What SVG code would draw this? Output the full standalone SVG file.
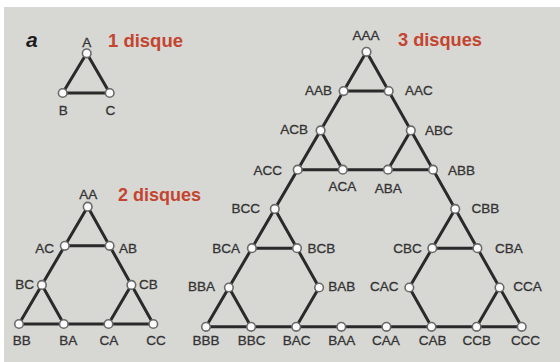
<svg xmlns="http://www.w3.org/2000/svg" width="560" height="362" viewBox="0 0 560 362">
<style>
.e{stroke:#2a2a2a;stroke-width:3;stroke-linecap:round;fill:none}
.n{fill:#fbfbfb;stroke:#6a6a6a;stroke-width:1.6}
.l{font-family:"Liberation Sans",Arial,sans-serif;font-size:13.5px;fill:#333333;stroke:#333333;stroke-width:0.3}
.m{text-anchor:middle}
.r{text-anchor:end}
.t{font-family:"Liberation Sans",Arial,sans-serif;font-size:18.5px;font-weight:bold;fill:#c4452f}
</style>
<rect x="0" y="0" width="560" height="362" fill="#ffffff"/>
<rect x="4" y="7" width="556" height="355" fill="#d7d7d4"/>
<text x="26" y="46.5" font-family="'Liberation Sans',Arial,sans-serif" font-size="21" font-style="italic" font-weight="bold" fill="#1c1c1c">a</text>
<text class="t" x="108" y="46.5" textLength="75" lengthAdjust="spacingAndGlyphs">1 disque</text>
<text class="t" x="118" y="200.5" textLength="83" lengthAdjust="spacingAndGlyphs">2 disques</text>
<text class="t" x="398" y="45.5" textLength="84" lengthAdjust="spacingAndGlyphs">3 disques</text>
<g id="connectors">
<polygon class="e" points="86.7,53.3 62.7,93 109.7,93"/>
<polygon class="e" points="87.7,206.7 19,324 153.3,324"/>
<line class="e" x1="64.8" y1="245.8" x2="109.6" y2="245.8"/>
<line class="e" x1="41.9" y1="284.9" x2="63.8" y2="324"/>
<line class="e" x1="131.4" y1="284.9" x2="108.5" y2="324"/>
<polygon class="e" points="366.5,51.8 206,326.8 521.7,326.8"/>
<line class="e" x1="343.6" y1="91.1" x2="388.7" y2="91.1"/>
<line class="e" x1="297.7" y1="169.7" x2="433" y2="169.7"/>
<line class="e" x1="320.6" y1="130.4" x2="342.8" y2="169.7"/>
<line class="e" x1="410.8" y1="130.4" x2="387.9" y2="169.7"/>
<line class="e" x1="251.9" y1="248.2" x2="297" y2="248.2"/>
<line class="e" x1="432.3" y1="248.2" x2="477.4" y2="248.2"/>
<line class="e" x1="274.8" y1="208.9" x2="319.1" y2="287.5"/>
<line class="e" x1="319.1" y1="287.5" x2="296.2" y2="326.8"/>
<line class="e" x1="228.9" y1="287.5" x2="251.1" y2="326.8"/>
<line class="e" x1="455.2" y1="208.9" x2="409.3" y2="287.5"/>
<line class="e" x1="409.3" y1="287.5" x2="431.5" y2="326.8"/>
<line class="e" x1="499.5" y1="287.5" x2="476.6" y2="326.8"/>
</g>
<g id="n1-A"><circle class="n" cx="86.7" cy="53.3" r="4.3"/><text class="l m" x="86.7" y="46.6">A</text></g>
<g id="n1-B"><circle class="n" cx="62.7" cy="93" r="4.3"/><text class="l m" x="63.3" y="114.6">B</text></g>
<g id="n1-C"><circle class="n" cx="109.7" cy="93" r="4.3"/><text class="l m" x="110.3" y="114.6">C</text></g>
<g id="n2-AA"><circle class="n" cx="87.7" cy="206.7" r="4.3"/><text class="l m" x="88.3" y="198.6">AA</text></g>
<g id="n2-AC"><circle class="n" cx="64.8" cy="245.8" r="4.3"/><text class="l r" x="54" y="252.8">AC</text></g>
<g id="n2-AB"><circle class="n" cx="109.6" cy="245.8" r="4.3"/><text class="l" x="119" y="252.8">AB</text></g>
<g id="n2-BC"><circle class="n" cx="41.9" cy="284.9" r="4.3"/><text class="l r" x="34" y="288.6">BC</text></g>
<g id="n2-CB"><circle class="n" cx="131.4" cy="284.9" r="4.3"/><text class="l" x="139" y="288.6">CB</text></g>
<g id="n2-BB"><circle class="n" cx="19" cy="324" r="4.3"/><text class="l m" x="21.7" y="344.6">BB</text></g>
<g id="n2-BA"><circle class="n" cx="63.8" cy="324" r="4.3"/><text class="l m" x="68.3" y="344.6">BA</text></g>
<g id="n2-CA"><circle class="n" cx="108.5" cy="324" r="4.3"/><text class="l m" x="109" y="344.6">CA</text></g>
<g id="n2-CC"><circle class="n" cx="153.3" cy="324" r="4.3"/><text class="l m" x="156" y="344.6">CC</text></g>
<g id="n3-AAA"><circle class="n" cx="366.5" cy="51.8" r="4.3"/><text class="l m" x="366" y="39.6">AAA</text></g>
<g id="n3-AAB"><circle class="n" cx="343.6" cy="91.1" r="4.3"/><text class="l r" x="332" y="95">AAB</text></g>
<g id="n3-AAC"><circle class="n" cx="388.7" cy="91.1" r="4.3"/><text class="l" x="405" y="95">AAC</text></g>
<g id="n3-ACB"><circle class="n" cx="320.6" cy="130.4" r="4.3"/><text class="l r" x="308" y="134">ACB</text></g>
<g id="n3-ABC"><circle class="n" cx="410.8" cy="130.4" r="4.3"/><text class="l" x="425" y="134.6">ABC</text></g>
<g id="n3-ACC"><circle class="n" cx="297.7" cy="169.7" r="4.3"/><text class="l r" x="282" y="174.6">ACC</text></g>
<g id="n3-ACA"><circle class="n" cx="342.8" cy="169.7" r="4.3"/><text class="l m" x="342.3" y="191.3">ACA</text></g>
<g id="n3-ABA"><circle class="n" cx="387.9" cy="169.7" r="4.3"/><text class="l m" x="388.3" y="192.9">ABA</text></g>
<g id="n3-ABB"><circle class="n" cx="433" cy="169.7" r="4.3"/><text class="l" x="448" y="174.6">ABB</text></g>
<g id="n3-BCC"><circle class="n" cx="274.8" cy="208.9" r="4.3"/><text class="l r" x="260" y="212.9">BCC</text></g>
<g id="n3-CBB"><circle class="n" cx="455.2" cy="208.9" r="4.3"/><text class="l" x="471.5" y="212.9">CBB</text></g>
<g id="n3-BCA"><circle class="n" cx="251.9" cy="248.2" r="4.3"/><text class="l r" x="240" y="252.9">BCA</text></g>
<g id="n3-BCB"><circle class="n" cx="297" cy="248.2" r="4.3"/><text class="l" x="307.5" y="252.9">BCB</text></g>
<g id="n3-CBC"><circle class="n" cx="432.3" cy="248.2" r="4.3"/><text class="l r" x="421.7" y="252.9">CBC</text></g>
<g id="n3-CBA"><circle class="n" cx="477.4" cy="248.2" r="4.3"/><text class="l" x="495" y="252.9">CBA</text></g>
<g id="n3-BBA"><circle class="n" cx="228.9" cy="287.5" r="4.3"/><text class="l r" x="215" y="290.6">BBA</text></g>
<g id="n3-BAB"><circle class="n" cx="319.1" cy="287.5" r="4.3"/><text class="l" x="328.3" y="290.6">BAB</text></g>
<g id="n3-CAC"><circle class="n" cx="409.3" cy="287.5" r="4.3"/><text class="l r" x="398.5" y="290.6">CAC</text></g>
<g id="n3-CCA"><circle class="n" cx="499.5" cy="287.5" r="4.3"/><text class="l" x="513.3" y="290.6">CCA</text></g>
<g id="n3-BBB"><circle class="n" cx="206" cy="326.8" r="4.3"/><text class="l m" x="206" y="345.3">BBB</text></g>
<g id="n3-BBC"><circle class="n" cx="251.1" cy="326.8" r="4.3"/><text class="l m" x="251.7" y="345.3">BBC</text></g>
<g id="n3-BAC"><circle class="n" cx="296.2" cy="326.8" r="4.3"/><text class="l m" x="296.7" y="345.3">BAC</text></g>
<g id="n3-BAA"><circle class="n" cx="341.3" cy="326.8" r="4.3"/><text class="l m" x="341.7" y="345.3">BAA</text></g>
<g id="n3-CAA"><circle class="n" cx="386.4" cy="326.8" r="4.3"/><text class="l m" x="386" y="345.3">CAA</text></g>
<g id="n3-CAB"><circle class="n" cx="431.5" cy="326.8" r="4.3"/><text class="l m" x="432.7" y="345.3">CAB</text></g>
<g id="n3-CCB"><circle class="n" cx="476.6" cy="326.8" r="4.3"/><text class="l m" x="476.7" y="345.3">CCB</text></g>
<g id="n3-CCC"><circle class="n" cx="521.7" cy="326.8" r="4.3"/><text class="l m" x="525.5" y="345.3">CCC</text></g>
</svg>
